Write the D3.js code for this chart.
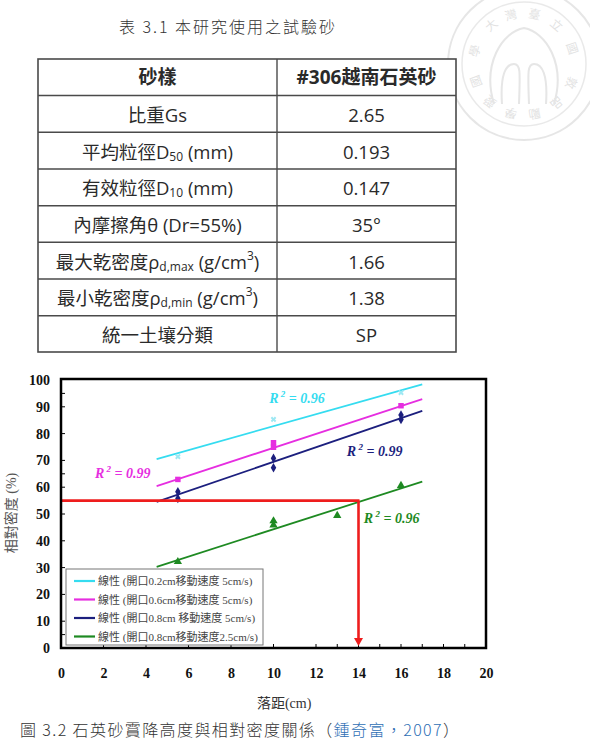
<!DOCTYPE html>
<html><head><meta charset="utf-8">
<script src="https://cdn.jsdelivr.net/npm/d3@7"></script>
<style>
html,body{margin:0;padding:0;background:#fff;}
svg{display:block;}
</style></head>
<body>
<svg id="c" width="590" height="742"></svg>
<script>
// ---------- Table data ----------
const tableHeader = ["砂樣", "#306越南石英砂"];
const tableLabels = [
  [["比重Gs", "n"]],
  [["平均粒徑D", "n"], ["50", "sub"], [" (mm)", "n"]],
  [["有效粒徑D", "n"], ["10", "sub"], [" (mm)", "n"]],
  [["內摩擦角θ (Dr=55%)", "n"]],
  [["最大乾密度ρ", "n"], ["d,max", "sub"], [" (g/cm", "n"], ["3", "sup"], [")", "n"]],
  [["最小乾密度ρ", "n"], ["d,min", "sub"], [" (g/cm", "n"], ["3", "sup"], [")", "n"]],
  [["統一土壤分類", "n"]]
];
const tableValues = ["2.65", "0.193", "0.147", "35°", "1.66", "1.38", "SP"];

// ---------- Chart data ----------
const xTicks = [0, 2, 4, 6, 8, 10, 12, 14, 16, 18, 20];
const xMinorTicks = [2, 4, 6, 8, 10, 12, 13, 14, 15, 16, 17, 18, 19];
const yTicks = [0, 10, 20, 30, 40, 50, 60, 70, 80, 90, 100];
const yMinorTicks = [5, 10, 20, 30, 40, 50, 60, 65, 70, 80, 90, 95];

const seriesNames = [
  "線性 (開口0.2cm移動速度 5cm/s)",
  "線性 (開口0.6cm移動速度 5cm/s)",
  "線性 (開口0.8cm 移動速度 5cm/s)",
  "線性 (開口0.8cm移動速度2.5cm/s)"
];
const seriesColors = ["#35dcf0", "#e62ee0", "#1c1f7e", "#1e8a22"];
const seriesMarkers = ["x", "square", "diamond", "triangle"];

const cyanX = [5.5, 10, 16];
const cyanY = [71.4, 85.3, 95.3];
const magentaX = [5.5, 10, 10, 16];
const magentaY = [62.9, 76.6, 74.9, 90.4];
const navyX = [5.5, 5.5, 10, 10, 16, 16];
const navyY = [58.3, 55.8, 70.8, 67.3, 86.9, 85.3];
const greenX = [5.5, 10, 10, 13, 16];
const greenY = [32.2, 47.4, 45.9, 49.4, 60.6];

// fitted (linear) lines: start/end x and y
const fitStartX = [4.5, 4.5, 4.5, 4.5];
const fitEndX = [17, 17, 17, 17];
const fitStartY = [70.5, 60.4, 54.5, 30.3];
const fitEndY = [98.4, 92.9, 88.5, 62.1];

const r2Labels = ["0.96", "0.99", "0.99", "0.96"];
const r2AnchorX = [9.8, 1.6, 13.45, 14.25];
const r2AnchorY = [91.5, 63.5, 71.5, 46.5];

const guideX = 14;
const guideY = 55;

const xAxisTitle = "落距(cm)";
const yAxisTitle = "相對密度 (%)";
const tableTitle = "表 3.1 本研究使用之試驗砂";
const captionMain = "圖 3.2 石英砂霣降高度與相對密度關係（";
const captionRef = "鍾奇富，2007";
const captionEnd = "）";

// ---------- Drawing ----------
const svg = d3.select("#c");
const CJK = "'Noto Sans CJK TC','Noto Sans CJK SC',sans-serif";
const SANS = "'Open Sans','Noto Sans CJK TC',sans-serif";
const SERIF = "'Liberation Serif','Times New Roman','Noto Sans CJK TC',serif";

// Watermark (faint emblem)
const wcx = 524, wcy = 64;
const wm = svg.append("g").attr("opacity", 0.6);
wm.append("circle").attr("cx", wcx).attr("cy", wcy).attr("r", 76)
  .attr("fill", "none").attr("stroke", "#d6d6d6").attr("stroke-width", 2);
wm.append("circle").attr("cx", wcx).attr("cy", wcy).attr("r", 62)
  .attr("fill", "none").attr("stroke", "#dcdcdc").attr("stroke-width", 1.5);
const wmChars = ["學", "大", "灣", "臺", "立", "國", "敦", "品", "勵", "學", "愛", "國"];
const wmAngles = [-165, -130, -105, -78, -50, -18, 22, 50, 78, 105, 132, 160];
const wmR = 52;
wm.selectAll("text.wm").data(wmChars).join("text")
  .attr("x", (d, i) => wcx + wmR * Math.cos(wmAngles[i] * Math.PI / 180))
  .attr("y", (d, i) => wcy + wmR * Math.sin(wmAngles[i] * Math.PI / 180))
  .attr("text-anchor", "middle").attr("dominant-baseline", "central")
  .attr("transform", (d, i) => {
    const px = wcx + wmR * Math.cos(wmAngles[i] * Math.PI / 180);
    const py = wcy + wmR * Math.sin(wmAngles[i] * Math.PI / 180);
    return `rotate(${wmAngles[i] + 90},${px},${py})`;
  })
  .style("font-family", CJK).style("font-size", "12px").attr("fill", "#cfcfcf").text(d => d);
wm.append("path").attr("d", `M${wcx - 30},${wcy + 40} C${wcx - 42},${wcy} ${wcx - 22},${wcy - 32} ${wcx},${wcy - 36} C${wcx + 22},${wcy - 32} ${wcx + 42},${wcy} ${wcx + 30},${wcy + 40}`)
  .attr("fill", "none").attr("stroke", "#d6d6d6").attr("stroke-width", 2);
wm.append("path").attr("d", `M${wcx - 22},${wcy + 40} C${wcx - 24},${wcy + 10} ${wcx - 18},${wcy} ${wcx - 10},${wcy} C${wcx - 3},${wcy} ${wcx - 4},${wcy + 10} ${wcx - 5},${wcy + 40} M${wcx + 5},${wcy + 40} C${wcx + 4},${wcy + 10} ${wcx + 3},${wcy} ${wcx + 10},${wcy} C${wcx + 18},${wcy} ${wcx + 24},${wcy + 10} ${wcx + 22},${wcy + 40}`)
  .attr("fill", "none").attr("stroke", "#d6d6d6").attr("stroke-width", 2);

// Table title
svg.append("text").attr("x", 228).attr("y", 33).attr("text-anchor", "middle")
  .style("font-family", CJK).style("font-size", "16px").style("font-weight", 300)
  .style("letter-spacing", "2px").attr("fill", "#333").text(tableTitle);

// Table
const tX0 = 38, tX1 = 277, tX2 = 456;
const rowEdges = [59, 95.5, 132.3, 169, 205.7, 242.3, 279, 315.7, 352];
const tg = svg.append("g");
tg.append("rect").attr("x", tX0).attr("y", rowEdges[0]).attr("width", tX2 - tX0)
  .attr("height", rowEdges[8] - rowEdges[0]).attr("fill", "#fff")
  .attr("stroke", "#4a4a4a").attr("stroke-width", 1.6);
tg.append("line").attr("x1", tX1).attr("x2", tX1).attr("y1", rowEdges[0]).attr("y2", rowEdges[8])
  .attr("stroke", "#4a4a4a").attr("stroke-width", 1.4);
tg.selectAll("line.r").data(rowEdges.slice(1, 8)).join("line")
  .attr("x1", tX0).attr("x2", tX2).attr("y1", d => d).attr("y2", d => d)
  .attr("stroke", "#4a4a4a").attr("stroke-width", 1.4);

function cellText(x, yc, segs, bold) {
  const t = tg.append("text").attr("x", x).attr("y", yc).attr("text-anchor", "middle")
    .attr("dominant-baseline", "central")
    .style("font-family", SANS).style("font-size", bold ? "19px" : "18.5px")
    .style("font-weight", bold ? 700 : 400).attr("fill", "#2a2a2a");
  let shift = 0;
  segs.forEach(([s, type]) => {
    let target = 0, size = null;
    if (type === "sub") { target = 5; size = "12px"; }
    if (type === "sup") { target = -6; size = "12px"; }
    const ts = t.append("tspan").attr("dy", target - shift).text(s);
    if (size) ts.style("font-size", size);
    shift = target;
  });
}
const col1 = (tX0 + tX1) / 2, col2 = (tX1 + tX2) / 2;
const rowMid = i => (rowEdges[i] + rowEdges[i + 1]) / 2;
cellText(col1, rowMid(0), [[tableHeader[0], "n"]], true);
cellText(col2, rowMid(0), [[tableHeader[1], "n"]], true);
tableLabels.forEach((segs, i) => {
  cellText(col1, rowMid(i + 1), segs, false);
  cellText(col2, rowMid(i + 1), [[tableValues[i], "n"]], false);
});

// ---------- Chart ----------
const x = d3.scaleLinear().domain([0, 20]).range([61, 486]);
const y = d3.scaleLinear().domain([0, 100]).range([648, 380]);
const cg = svg.append("g");

// inner ticks
cg.selectAll("line.yt").data(yMinorTicks).join("line")
  .attr("x1", x(0)).attr("x2", x(0) + 4).attr("y1", d => y(d)).attr("y2", d => y(d))
  .attr("stroke", "#000").attr("stroke-width", 1);
cg.selectAll("line.xt").data(xMinorTicks).join("line")
  .attr("x1", d => x(d)).attr("x2", d => x(d)).attr("y1", y(0)).attr("y2", y(0) - 4)
  .attr("stroke", "#000").attr("stroke-width", 1);

// axis tick labels via d3 axes (domain/ticks hidden)
const yAxis = d3.axisLeft(y).tickValues(yTicks).tickSize(0).tickPadding(11);
const yAx = cg.append("g").attr("transform", `translate(${x(0)},0)`).call(yAxis);
yAx.select(".domain").remove();
yAx.selectAll("text").style("font-family", SERIF).style("font-size", "14px")
  .style("font-weight", 700).attr("fill", "#111");
const xAxis = d3.axisBottom(x).tickValues(xTicks).tickSize(0).tickPadding(20);
const xAx = cg.append("g").attr("transform", `translate(0,${y(0)})`).call(xAxis);
xAx.select(".domain").remove();
xAx.selectAll("text").style("font-family", SERIF).style("font-size", "14px")
  .style("font-weight", 700).attr("fill", "#111");

// axis titles
cg.append("text").attr("x", x(10.5)).attr("y", 708).attr("text-anchor", "middle")
  .style("font-family", SERIF).style("font-size", "14px").attr("fill", "#333").text(xAxisTitle);
cg.append("text").attr("transform", "translate(16,513) rotate(-90)").attr("text-anchor", "middle")
  .style("font-family", SERIF).style("font-size", "14px").attr("fill", "#555").text(yAxisTitle);

// fit lines
const fits = d3.range(4).map(i => ({
  x1: fitStartX[i], x2: fitEndX[i], y1: fitStartY[i], y2: fitEndY[i], c: seriesColors[i]
}));
cg.selectAll("line.fit").data(fits).join("line")
  .attr("x1", d => x(d.x1)).attr("x2", d => x(d.x2))
  .attr("y1", d => y(d.y1)).attr("y2", d => y(d.y2))
  .attr("stroke", d => d.c).attr("stroke-width", 1.8);

// points
const pts = [];
[[cyanX, cyanY], [magentaX, magentaY], [navyX, navyY], [greenX, greenY]].forEach(([xs, ys], i) => {
  xs.forEach((v, j) => pts.push({ x: v, y: ys[j], i }));
});
const symMap = { x: d3.symbolCross, square: d3.symbolSquare, diamond: d3.symbolDiamond, triangle: d3.symbolTriangle };
const sizes = { x: 20, square: 30, diamond: 26, triangle: 30 };
cg.selectAll("path.pt").data(pts).join("path")
  .attr("transform", d => `translate(${x(d.x)},${y(d.y)})` + (seriesMarkers[d.i] === "x" ? " rotate(45)" : ""))
  .attr("d", d => d3.symbol().type(symMap[seriesMarkers[d.i]]).size(sizes[seriesMarkers[d.i]])())
  .attr("fill", d => seriesMarkers[d.i] === "x" ? "#9ee8f3" : seriesColors[d.i]);

// R² labels
r2Labels.forEach((lab, i) => {
  const t = cg.append("text").attr("x", x(r2AnchorX[i])).attr("y", y(r2AnchorY[i]))
    .style("font-family", SERIF).style("font-size", "14px").style("font-weight", 700)
    .style("font-style", "italic").attr("fill", seriesColors[i]);
  t.append("tspan").text("R");
  t.append("tspan").attr("dy", -6).style("font-size", "9px").text(" 2");
  t.append("tspan").attr("dy", 6).text(" = " + lab);
});

// red guide lines
const red = "#ee1d1d";
cg.append("line").attr("x1", x(0)).attr("x2", x(guideX) + 1).attr("y1", y(guideY)).attr("y2", y(guideY))
  .attr("stroke", red).attr("stroke-width", 2.6);
cg.append("line").attr("x1", x(guideX)).attr("x2", x(guideX)).attr("y1", y(guideY)).attr("y2", y(0) - 8)
  .attr("stroke", red).attr("stroke-width", 2.6);
cg.append("path")
  .attr("d", `M${x(guideX) - 4.5},${y(0) - 10} L${x(guideX) + 4.5},${y(0) - 10} L${x(guideX)},${y(0) - 2} Z`)
  .attr("fill", red);

// legend
const lg = cg.append("g");
lg.append("rect").attr("x", 66).attr("y", 569).attr("width", 197).attr("height", 76)
  .attr("fill", "#fff").attr("stroke", "#777").attr("stroke-width", 1);
seriesNames.forEach((nm, i) => {
  const yy = 581 + i * 18.5;
  lg.append("line").attr("x1", 74).attr("x2", 95).attr("y1", yy).attr("y2", yy)
    .attr("stroke", seriesColors[i]).attr("stroke-width", 2.2);
  lg.append("text").attr("x", 98).attr("y", yy).attr("dominant-baseline", "central")
    .style("font-family", SERIF).style("font-size", "11px").attr("fill", "#444").text(nm);
});

// frame
cg.append("rect").attr("x", x(0)).attr("y", 379).attr("width", x(20) - x(0)).attr("height", y(0) - 379)
  .attr("fill", "none").attr("stroke", "#000").attr("stroke-width", 2.5);

// caption
const cap = svg.append("text").attr("x", 20).attr("y", 736)
  .style("font-family", CJK).style("font-size", "16px").style("font-weight", 300)
  .style("letter-spacing", "1.4px").attr("fill", "#333");
cap.append("tspan").text(captionMain);
cap.append("tspan").attr("fill", "#2f6fb5").text(captionRef);
cap.append("tspan").text(captionEnd);
</script>
</body></html>
